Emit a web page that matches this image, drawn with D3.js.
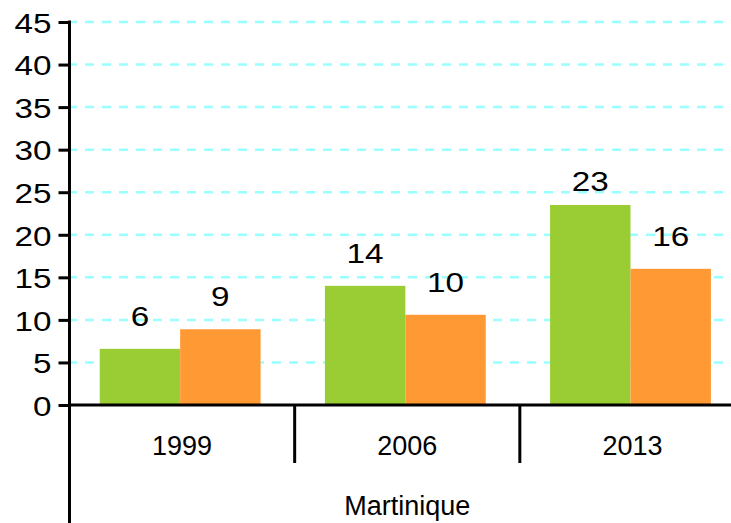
<!DOCTYPE html>
<html>
<head>
<meta charset="utf-8">
<script src="https://cdn.jsdelivr.net/npm/d3@7/dist/d3.min.js"></script>
<style>
  html, body { margin: 0; padding: 0; background: #ffffff; }
  svg { display: block; }
  text { font-family: "Liberation Sans", Arial, sans-serif; fill: #000; }
</style>
</head>
<body>
<svg id="chart" width="731" height="523"></svg>
<script>
// ---- data ----
const categories = ["1999", "2006", "2013"];
const seriesNames = ["serie1", "serie2"];
const serie1Values = [6.6, 14.0, 23.5];
const serie2Values = [8.9, 10.6, 16.0];
const serie1Labels = ["6", "14", "23"];
const serie2Labels = ["9", "10", "16"];
const yTickValues = [0, 5, 10, 15, 20, 25, 30, 35, 40, 45];
const groupLabel = "Martinique";

// ---- style ----
const colors = { serie1: "#9acc33", serie2: "#ff9933" };
const W = 731, H = 523;
const margin = { left: 69.5, top: 22, zeroY: 405, right: 745 };

const svg = d3.select("#chart");

const x0 = d3.scaleBand().domain(categories).range([margin.left, margin.right]).padding(0);
const x1 = d3.scaleBand().domain(seriesNames).range([0, x0.bandwidth()])
  .paddingInner(0).paddingOuter(0.4).align(0.47);
const y = d3.scaleLinear().domain([0, 45]).range([margin.zeroY, margin.top]);

// gridlines
svg.append("g").selectAll("line")
  .data(yTickValues.filter(d => d > 0))
  .join("line")
  .attr("x1", margin.left + 1.5).attr("x2", W)
  .attr("y1", d => y(d)).attr("y2", d => y(d))
  .attr("stroke", "#99ffff").attr("stroke-width", 2.5)
  .attr("stroke-dasharray", "9,8").attr("stroke-dashoffset", 3);

// bars
const rows = categories.map((c, i) => ({
  cat: c,
  items: [
    { key: "serie1", value: serie1Values[i], label: serie1Labels[i] },
    { key: "serie2", value: serie2Values[i], label: serie2Labels[i] }
  ]
}));

const groups = svg.append("g").selectAll("g")
  .data(rows).join("g")
  .attr("transform", d => `translate(${x0(d.cat)},0)`);

groups.selectAll("rect")
  .data(d => d.items).join("rect")
  .attr("x", d => x1(d.key))
  .attr("width", x1.bandwidth())
  .attr("y", d => y(d.value))
  .attr("height", d => y(0) - y(d.value))
  .attr("fill", d => colors[d.key]);

groups.selectAll("text")
  .data(d => d.items).join("text")
  .attr("x", d => x1(d.key) + x1.bandwidth() / 2)
  .attr("y", d => Math.max(y(d.value) - 23, y(25) - 1))
  .attr("text-anchor", "middle")
  .attr("font-size", 27)
  .attr("textLength", d => d.label.length * 18.5)
  .attr("lengthAdjust", "spacingAndGlyphs")
  .text(d => d.label);

// y axis
const yAxis = d3.axisLeft(y).tickValues(yTickValues).tickSizeInner(11).tickSizeOuter(0).tickPadding(7);
const gy = svg.append("g").attr("transform", `translate(${margin.left},0)`).call(yAxis);
gy.select(".domain").remove();
gy.selectAll(".tick line").attr("stroke", "#000").attr("stroke-width", 3);
gy.selectAll(".tick text")
  .attr("font-size", 27)
  .attr("font-family", "Liberation Sans, Arial, sans-serif")
  .attr("fill", "#000")
  .attr("dy", "0.38em")
  .attr("textLength", d => String(d).length * 18.5)
  .attr("lengthAdjust", "spacingAndGlyphs");

// axis lines
svg.append("line")
  .attr("x1", margin.left).attr("x2", margin.left)
  .attr("y1", y(45) - 1.5).attr("y2", H)
  .attr("stroke", "#000").attr("stroke-width", 3);
svg.append("line")
  .attr("x1", margin.left).attr("x2", W)
  .attr("y1", y(0)).attr("y2", y(0))
  .attr("stroke", "#000").attr("stroke-width", 3);

// category separators
svg.append("g").selectAll("line")
  .data(categories.slice(1))
  .join("line")
  .attr("x1", d => x0(d)).attr("x2", d => x0(d))
  .attr("y1", y(0)).attr("y2", y(0) + 58)
  .attr("stroke", "#000").attr("stroke-width", 3);

// category labels
svg.append("g").selectAll("text")
  .data(categories).join("text")
  .attr("x", d => x0(d) + x0.bandwidth() / 2)
  .attr("y", y(0) + 50)
  .attr("text-anchor", "middle")
  .attr("font-size", 27)
  .text(d => d);

// group label
svg.append("text")
  .attr("x", (margin.left + margin.right) / 2)
  .attr("y", y(0) + 110)
  .attr("text-anchor", "middle")
  .attr("font-size", 27)
  .text(groupLabel);
</script>
</body>
</html>
